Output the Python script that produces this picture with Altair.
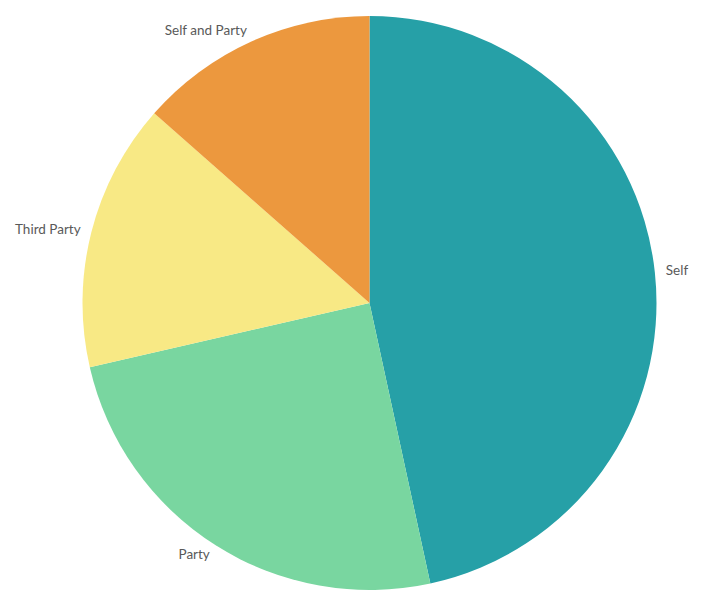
import altair as alt
import pandas as pd

categories = ["Self", "Party", "Third Party", "Self and Party"]
values = [46.6, 24.8, 15.1, 13.5]
order = [0, 1, 2, 3]
colors = ["#26A0A7", "#79D6A0", "#F8E985", "#EC983E"]

df = pd.DataFrame({"category": categories, "value": values, "order": order})

CX, CY = 361.5, 295
R = 287

base = alt.Chart(df)

pie = base.mark_arc(outerRadius=R).encode(
    theta=alt.Theta("value:Q", stack=True),
    order=alt.Order("order:Q"),
    color=alt.Color("category:N", scale=alt.Scale(domain=categories, range=colors), legend=None),
    x=alt.value(CX),
    y=alt.value(CY),
)

def label_layer(right_side):
    cond = "datum.mid < 0.5" if right_side else "datum.mid >= 0.5"
    return (
        base.transform_joinaggregate(total="sum(value)")
        .transform_window(cum="sum(value)", sort=[alt.SortField("order")], frame=[None, 0])
        .transform_calculate(mid="(datum.cum - datum.value / 2) / datum.total")
        .transform_filter(cond)
        .mark_text(
            radius=R + 11,
            align="left" if right_side else "right",
            baseline="middle",
            font="Lato",
            fontSize=13.5,
            color="#595959",
        )
        .encode(
            theta=alt.Theta("mid:Q", stack=False, scale=alt.Scale(domain=[0, 1])),
            text="category:N",
            x=alt.value(CX),
            y=alt.value(CY),
        )
    )

chart = (
    alt.layer(pie, label_layer(True), label_layer(False))
    .resolve_scale(theta="independent")
    .properties(width=691, height=594, autosize=alt.AutoSizeParams(type="none"), padding=0)
    .configure_view(stroke=None)
)

chart.save("out.html", embed_options={"renderer": "svg", "actions": False})
